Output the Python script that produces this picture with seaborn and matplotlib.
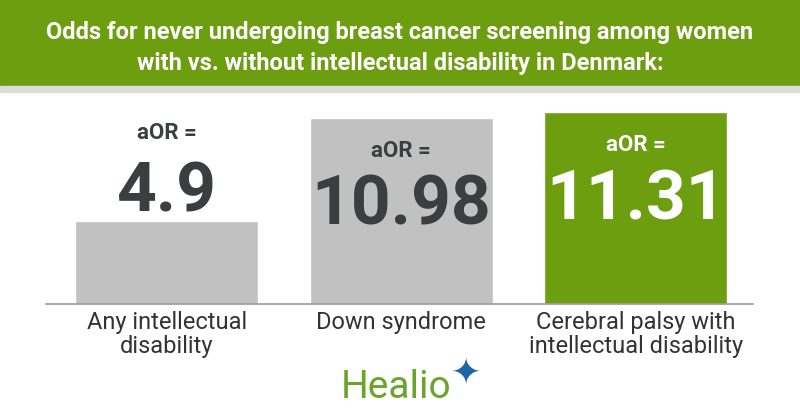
import numpy as np
import matplotlib
matplotlib.use("Agg")
import matplotlib.pyplot as plt
import seaborn as sns

# data
categories = ["Any intellectual\ndisability", "Down syndrome", "Cerebral palsy with\nintellectual disability"]
aor_values = [4.9, 10.98, 11.31]
aor_labels = ["4.9", "10.98", "11.31"]
bar_colors = ["#c1c1c1", "#c1c1c1", "#6c9e10"]
text_colors = ["#3a3e3f", "#3a3e3f", "#ffffff"]
title = ("Odds for never undergoing breast cancer screening among women\n"
         "with vs. without intellectual disability in Denmark:")

sns.set_theme(style="white")
plt.rcParams["font.family"] = ["Roboto", "DejaVu Sans"]

W, H = 800, 420
fig = plt.figure(figsize=(8, 4.2), dpi=100)
fig.patch.set_facecolor("white")

# header band
fig.patches.append(plt.Rectangle((0, 1 - 86 / H), 1, 86 / H, transform=fig.transFigure,
                                 color="#6c9e10", zorder=0))
fig.patches.append(plt.Rectangle((0, 1 - 92 / H), 1, 6 / H, transform=fig.transFigure,
                                 color="#dcdcdc", zorder=0))
fig.text(0.5, 1 - 48 / H, title, ha="center", va="center", color="white",
         fontsize=17, fontweight="bold", linespacing=1.4,
         family=["Liberation Sans Narrow", "Roboto", "DejaVu Sans"])

ax = fig.add_axes([46 / W, 1 - 304 / H, 707 / W, 208 / H])
sns.barplot(x=categories, y=aor_values, hue=categories, palette=bar_colors,
            width=0.78, legend=False, saturation=1, ax=ax)
ax.set_xlim(-0.514, 2.5)
ax.set_ylim(0, 12.27)
ax.set_facecolor("none")
for s in ["top", "right", "left"]:
    ax.spines[s].set_visible(False)
ax.spines["bottom"].set_color("#9a9a9a")
ax.spines["bottom"].set_linewidth(1.2)
ax.set_yticks([])
ax.set_xlabel("")
ax.set_ylabel("")
ax.tick_params(axis="x", length=0, pad=5, labelsize=17, labelcolor="#333333")
for t in ax.get_xticklabels():
    t.set_linespacing(1.05)

for i, (v, lab, tc) in enumerate(zip(aor_values, aor_labels, text_colors)):
    if v > 8:
        off_a, off_n = -28, -77
    else:
        off_a, off_n = 59, 7
    ax.annotate("aOR =", (i, v), xytext=(0, off_a), textcoords="offset points",
                ha="center", va="baseline", fontsize=16, fontweight="bold", color=tc)
    ax.annotate(lab, (i, v), xytext=(0, off_n), textcoords="offset points",
                ha="center", va="baseline", fontsize=50, fontweight="bold", color=tc)

# logo
fig.text(396 / W, 1 - 398 / H, "Healio", ha="center", va="baseline",
         fontsize=28, color="#6aa42a")
fig.text(466 / W, 1 - 373 / H, "\u2726", ha="center", va="center",
         fontsize=26, color="#1f66a8", family="DejaVu Sans")

fig.savefig("out.png", dpi=100)
